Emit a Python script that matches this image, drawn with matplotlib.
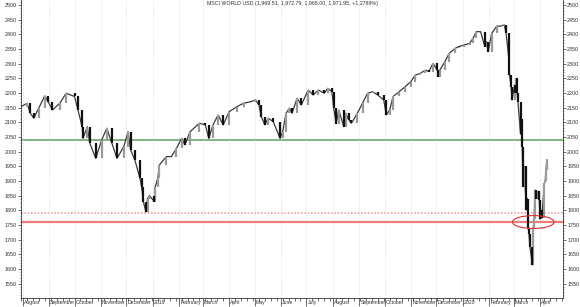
import matplotlib
matplotlib.use('Agg')
import matplotlib.pyplot as plt
import matplotlib.dates as mdates
import matplotlib.transforms as mtransforms
from matplotlib.patches import Ellipse
from matplotlib.ticker import MultipleLocator, FixedLocator
import numpy as np
import pandas as pd

# closes (roughly every few trading days, daily in the crash)
dates = ['2018-07-30', '2018-08-06', '2018-08-10', '2018-08-14', '2018-08-20', '2018-08-27', '2018-08-31',
         '2018-09-05', '2018-09-14', '2018-09-21', '2018-10-01', '2018-10-05', '2018-10-10', '2018-10-11',
         '2018-10-16', '2018-10-19', '2018-10-26', '2018-11-02', '2018-11-08', '2018-11-14', '2018-11-20',
         '2018-11-28', '2018-12-03', '2018-12-06', '2018-12-11', '2018-12-17', '2018-12-19', '2018-12-21',
         '2018-12-24', '2018-12-26', '2018-12-28', '2019-01-03', '2019-01-04', '2019-01-07', '2019-01-09',
         '2019-01-17', '2019-01-23', '2019-01-29', '2019-02-04', '2019-02-08', '2019-02-14', '2019-02-25',
         '2019-03-04', '2019-03-08', '2019-03-13', '2019-03-19', '2019-03-25', '2019-04-01', '2019-04-10',
         '2019-04-18', '2019-04-26', '2019-05-02', '2019-05-06', '2019-05-09', '2019-05-13', '2019-05-17',
         '2019-05-23', '2019-05-31', '2019-06-03', '2019-06-07', '2019-06-11', '2019-06-14', '2019-06-20',
         '2019-06-25', '2019-07-03', '2019-07-09', '2019-07-15', '2019-07-22', '2019-07-26', '2019-07-31',
         '2019-08-02', '2019-08-05', '2019-08-08', '2019-08-14', '2019-08-16', '2019-08-20', '2019-08-23',
         '2019-08-30', '2019-09-05', '2019-09-11', '2019-09-17', '2019-09-23', '2019-09-30', '2019-10-03',
         '2019-10-07', '2019-10-11', '2019-10-18', '2019-10-25', '2019-11-01', '2019-11-06', '2019-11-12',
         '2019-11-18', '2019-11-22', '2019-11-27', '2019-12-02', '2019-12-03', '2019-12-05', '2019-12-11',
         '2019-12-16', '2019-12-23', '2019-12-27', '2020-01-03', '2020-01-09', '2020-01-13', '2020-01-17',
         '2020-01-22', '2020-01-27', '2020-01-29', '2020-01-31', '2020-02-04', '2020-02-10', '2020-02-14',
         '2020-02-19', '2020-02-21', '2020-02-24', '2020-02-25', '2020-02-27', '2020-02-28', '2020-03-02',
         '2020-03-03', '2020-03-04', '2020-03-05', '2020-03-06', '2020-03-09', '2020-03-10', '2020-03-11',
         '2020-03-12', '2020-03-13', '2020-03-16', '2020-03-17', '2020-03-18', '2020-03-19', '2020-03-20',
         '2020-03-23', '2020-03-24', '2020-03-25', '2020-03-26', '2020-03-27', '2020-03-30', '2020-03-31',
         '2020-04-01', '2020-04-02', '2020-04-03', '2020-04-06', '2020-04-07', '2020-04-08', '2020-04-09']
closes = [2153, 2165, 2131, 2114, 2149, 2190, 2170,
          2142, 2166, 2199, 2188, 2142, 2085, 2045,
          2085, 2029, 1977, 2040, 2080, 2029, 1977,
          2017, 2068, 2006, 1972, 1909, 1880, 1830,
          1795, 1840, 1850, 1830, 1880, 1909, 1955,
          1983, 1983, 2011, 2045, 2023, 2068, 2097,
          2091, 2045, 2091, 2125, 2091, 2136, 2153,
          2165, 2170, 2176, 2159, 2119, 2091, 2114,
          2102, 2045, 2068, 2131, 2148, 2131, 2182,
          2159, 2210, 2193, 2210, 2199, 2216, 2204,
          2150, 2095, 2142, 2085, 2131, 2108, 2097,
          2131, 2165, 2199, 2204, 2193, 2176, 2125,
          2142, 2188, 2204, 2221, 2239, 2261, 2267,
          2278, 2273, 2301, 2278, 2256, 2278, 2307,
          2335, 2352, 2358, 2364, 2369, 2386, 2409,
          2409, 2358, 2375, 2341, 2403, 2428, 2428,
          2432, 2403, 2324, 2261, 2221, 2176, 2227,
          2200, 2250, 2200, 2170, 2060, 2110, 2017,
          1881, 1950, 1801, 1840, 1740, 1720, 1676,
          1614, 1740, 1770, 1869, 1840, 1865, 1835,
          1770, 1800, 1775, 1892, 1900, 1938, 1972]
last_ohlc = [1969.51, 1972.79, 1968.00, 1971.95]
last_change = 1.2789

green_level = 2040
red_level = 1760
red_dotted_level = 1791

month_ticks = pd.date_range('2018-08-01', '2020-04-01', freq='MS')
month_labels = ['August', 'September', 'October', 'November', 'December', '2019', 'February', 'March',
                'April', 'May', 'June', 'July', 'August', 'September', 'October', 'November', 'December',
                '2020', 'February', 'March', 'April']
yticks = list(range(1550, 2501, 50))

plt.rcParams['font.family'] = ['Liberation Sans', 'DejaVu Sans']

x = mdates.date2num(pd.to_datetime(dates))
c = np.array(closes, dtype=float)
o = np.r_[c[0], c[:-1]]
up = c >= o

fig = plt.figure(figsize=(5.8, 3.07), dpi=100)
ax = fig.add_axes([21 / 580, 9 / 307, 542 / 580, 298 / 307])

# price path plus bars coloured by direction (grey up, black down)
ax.plot(x, c, color='#3a3a3a', lw=0.9, zorder=2)
ax.vlines(x[up], o[up], c[up], color='#9a9a9a', lw=1.6, zorder=3)
ax.vlines(x[~up], o[~up], c[~up], color='#111111', lw=1.6, zorder=3)

ax.axhline(green_level, color='#6aa86a', lw=1.2, zorder=1)
ax.axhline(red_level, color='#f07a7a', lw=1.6, zorder=1)
ax.axhline(red_dotted_level, color='#f5a0a0', lw=1.2, linestyle=(0, (1, 1)), zorder=1)
ell = Ellipse((mdates.date2num(pd.Timestamp('2020-03-24')), red_level), 49, 44,
              fill=False, edgecolor='#e03030', lw=0.8, zorder=4)
ax.add_patch(ell)

ax.set_xlim(mdates.date2num(pd.Timestamp('2018-07-30')), mdates.date2num(pd.Timestamp('2020-04-28')))
ax.set_ylim(1501, 2517)

ax.xaxis.set_major_locator(FixedLocator(mdates.date2num(month_ticks)))
ax.set_xticklabels(month_labels)
ax.xaxis.set_minor_locator(mdates.WeekdayLocator(byweekday=mdates.MO))
ax.grid(axis='x', which='major', color='#d0d0d0', lw=0.6, linestyle=(0, (1, 2)))
ax.tick_params(axis='x', which='major', length=6, width=0.5, pad=-4.5, labelsize=3.7, colors='#333333')
ax.tick_params(axis='x', which='minor', length=2, width=0.5, colors='#333333')
offset = mtransforms.ScaledTranslation(1.2 / 100, 0, fig.dpi_scale_trans)
for lab in ax.get_xticklabels():
    lab.set_horizontalalignment('left')
    lab.set_transform(lab.get_transform() + offset)

ax.set_yticks(yticks)
ax.yaxis.set_minor_locator(MultipleLocator(10))
ax.tick_params(axis='y', which='major', length=2, width=0.5, pad=1, labelsize=3.9,
               colors='#333333', left=True, right=True, labelleft=True, labelright=True)
ax.tick_params(axis='y', which='minor', length=1, width=0.4, colors='#333333', left=True, right=True)

for s in ['left', 'right', 'bottom']:
    ax.spines[s].set_linewidth(0.6)
    ax.spines[s].set_color('#333333')
ax.spines['top'].set_visible(False)

title = 'MSCI WORLD USD ({:,.2f}, {:,.2f}, {:,.2f}, {:,.2f}, +{:.4f}%)'.format(*last_ohlc, last_change)
ax.text(0.5, 0.997, title, transform=ax.transAxes, ha='center', va='top', fontsize=3.8, color='#333333')

fig.savefig('out.png', dpi=100)
